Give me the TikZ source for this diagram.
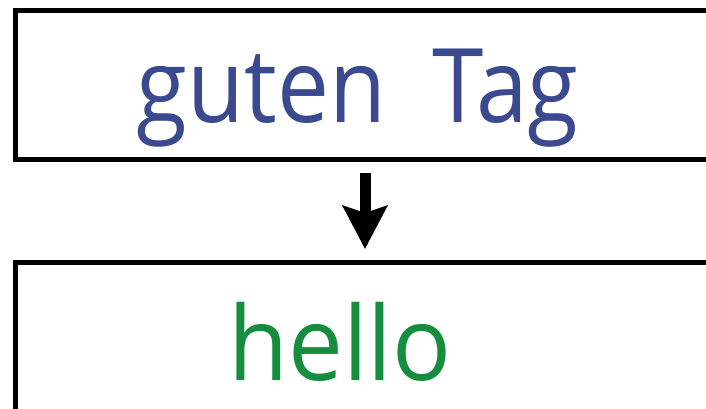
\documentclass[tikz,border=0pt]{standalone}
\usepackage{fontspec}
\setmainfont{Open Sans}
\usetikzlibrary{arrows.meta}
\definecolor{tagblue}{RGB}{59,74,142}
\definecolor{hellogreen}{RGB}{21,141,63}
\begin{document}
\begin{tikzpicture}[x=1pt,y=-1pt,
  box/.style={draw=black,line width=5pt,inner sep=0pt,anchor=north west},
  word/.style={anchor=base,inner sep=0pt,font=\fontsize{103}{104}\selectfont},
  flow/.style={line width=11pt,-{Stealth[width=44pt,length=43pt,inset=7pt]}}]
\useasboundingbox (0,0) rectangle (706,408);
\clip (0,0) rectangle (706,408);
\node[box,minimum width=760pt,minimum height=149.5pt] (top) at (12.5,7.5) {};
\node[box,minimum width=760pt,minimum height=200pt] (bot) at (12.5,260) {};
\node[word,text=tagblue] (t1) at (357.5,122) {\scalebox{0.9}[1]{guten\hspace{0.5em}Tag}};
\node[word,text=hellogreen] (t2) at (340,380) {\scalebox{0.95}[1]{hello}};
\coordinate (ax) at (365,0);
\draw[flow,shorten <=11pt,shorten >=11pt] (top.south -| ax) -- (bot.north -| ax);
\end{tikzpicture}
\end{document}
